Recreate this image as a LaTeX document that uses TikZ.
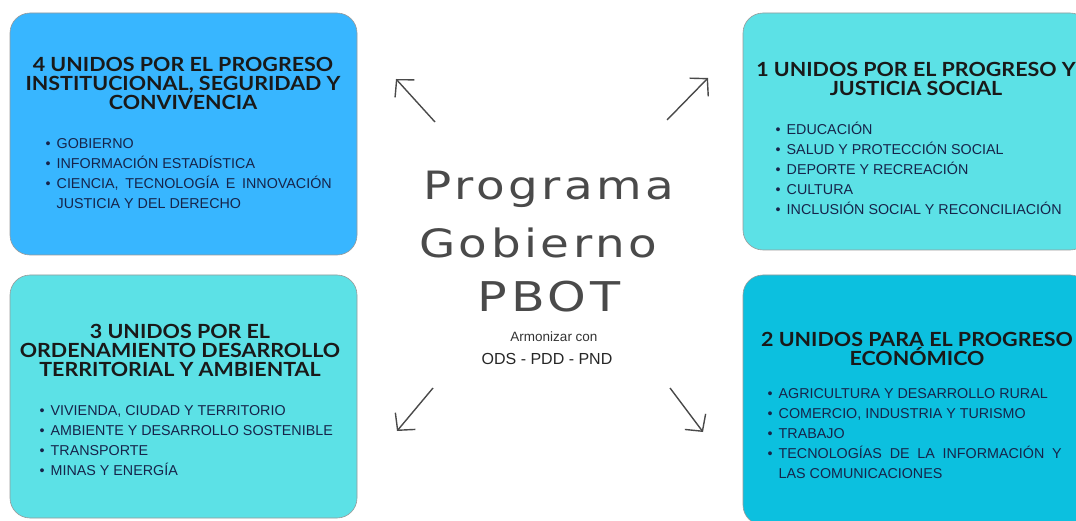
\documentclass[tikz,border=0pt]{standalone}
\usepackage{fontspec}
\setmainfont{Liberation Sans}
\newfontfamily\ttlfont[FakeStretch=1.1]{Lato}
\newfontfamily\bigfont[FakeStretch=1.2,LetterSpace=9]{DejaVu Sans}
\usetikzlibrary{arrows.meta}
\definecolor{azul}{HTML}{38B6FF}
\definecolor{turq}{HTML}{5CE1E6}
\definecolor{cian}{HTML}{0CC0DF}
\definecolor{tinta}{HTML}{16244A}
\definecolor{grisc}{HTML}{4A4A4A}
\tikzset{>={Straight Barb[length=12pt,width=26pt]}}
\tikzset{
  caja/.style={draw=black!40, line width=0.6pt, rounded corners=20pt},
  titulo/.style={font=\ttlfont\bfseries\fontsize{19.5}{19}\selectfont, text=black!90, align=center, inner sep=0pt},
  lista/.style={font=\fontsize{14.3}{20}\selectfont, text=tinta, align=left, inner sep=0pt, anchor=base west},
  flecha/.style={->, line width=1.4pt, draw=grisc},
}
\newcommand\itm[1]{\makebox[11pt][l]{\textbullet}#1}
\newcommand\cont[1]{\hspace*{11pt}#1}

\begin{document}
\begin{tikzpicture}[x=1pt,y=1pt]
		\useasboundingbox (0,0) rectangle (1076,520);
		\clip (0,0) rectangle (1076,520);
		\draw[caja, fill=azul] (10,265) rectangle (357,507);
		\draw[caja, fill=turq] (10,2) rectangle (357,245);
		\draw[caja, fill=turq] (743,270) rectangle (1090,507);
		\draw[caja, fill=cian] (743,-5) rectangle (1090,245);
		\node[titulo] (t4) at (183,437) {4 UNIDOS POR EL PROGRESO\\INSTITUCIONAL, SEGURIDAD Y\\CONVIVENCIA};
		\node[lista] (l4) at (45.5,311) {\itm{GOBIERNO}\\\itm{INFORMACIÓN ESTADÍSTICA}\\\itm{\makebox[275pt][s]{CIENCIA, TECNOLOGÍA E INNOVACIÓN}}\\\cont{JUSTICIA Y DEL DERECHO}};
		\node[titulo] (t3) at (180,170) {3 UNIDOS POR EL\\ORDENAMIENTO DESARROLLO\\TERRITORIAL Y AMBIENTAL};
		\node[lista] (l3) at (39.5,45) {\itm{VIVIENDA, CIUDAD Y TERRITORIO}\\\itm{AMBIENTE Y DESARROLLO SOSTENIBLE}\\\itm{TRANSPORTE}\\\itm{MINAS Y ENERGÍA}};
		\node[titulo] (t1) at (916,441) {1 UNIDOS POR EL PROGRESO Y\\JUSTICIA SOCIAL};
		\node[lista] (l1) at (775.5,305) {\itm{EDUCACIÓN}\\\itm{SALUD Y PROTECCIÓN SOCIAL}\\\itm{DEPORTE Y RECREACIÓN}\\\itm{CULTURA}\\\itm{INCLUSIÓN SOCIAL Y RECONCILIACIÓN}};
		\node[titulo] (t2) at (917,171) {2 UNIDOS PARA EL PROGRESO\\ECONÓMICO};
		\node[lista] (l2) at (767.5,42) {\itm{AGRICULTURA Y DESARROLLO RURAL}\\\itm{COMERCIO, INDUSTRIA Y TURISMO}\\\itm{TRABAJO}\\\itm{\makebox[283pt][s]{TECNOLOGÍAS DE LA INFORMACIÓN Y}}\\\cont{LAS COMUNICACIONES}};
		\node[anchor=base, font=\bigfont\fontsize{39}{39}\selectfont, text=grisc] (prog) at (549,320) {Programa};
		\node[anchor=base, font=\bigfont\fontsize{39}{39}\selectfont, text=grisc] (gob) at (538,262) {Gobierno};
		\node[anchor=base, font=\bigfont\fontsize{41}{41}\selectfont, text=grisc] (pbot) at (549,208) {PBOT};
		\node[font=\fontsize{13.5}{14}\selectfont, text=black!80] (arm) at (554,183) {Armonizar con};
		\node[font=\fontsize{16}{16}\selectfont, text=black!85] (ods) at (547,161) {ODS - PDD - PND};
		\coordinate (nw0) at (435,398);
		\coordinate (nw1) at (396,441);
		\coordinate (ne0) at (667,400);
		\coordinate (ne1) at (708,442);
		\coordinate (sw0) at (433,132);
		\coordinate (sw1) at (397,89);
		\coordinate (se0) at (670,132);
		\coordinate (se1) at (703,88);
		\draw[flecha] (nw0) -- (nw1);
		\draw[flecha] (ne0) -- (ne1);
		\draw[flecha] (sw0) -- (sw1);
		\draw[flecha] (se0) -- (se1);
	\end{tikzpicture}
\end{document}
